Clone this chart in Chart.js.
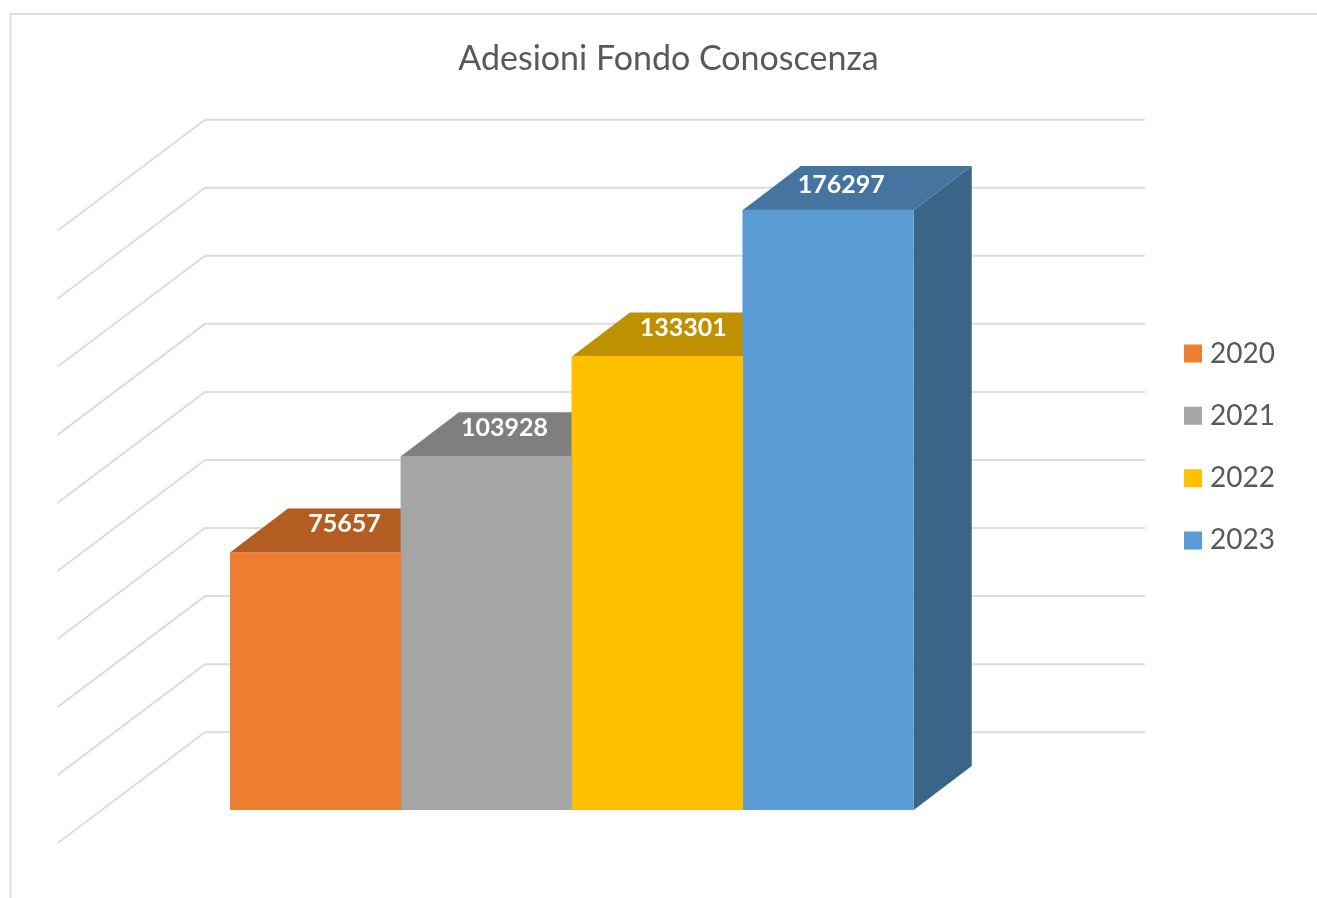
<!DOCTYPE html>
<html>
<head>
<meta charset="utf-8">
<title>Adesioni Fondo Conoscenza</title>
<script src="https://cdn.jsdelivr.net/npm/chart.js@4/dist/chart.umd.min.js"></script>
<style>
    html, body { margin: 0; padding: 0; background: #fff; overflow: hidden; }
    canvas { display: block; }
</style>
</head>
<body>
<canvas id="fondoChart" width="1317" height="898"></canvas>
<script>
var chartTitle = "Adesioni Fondo Conoscenza";
var categories = ["Adesioni"];
var years = ["2020", "2021", "2022", "2023"];
var adesioni = [75657, 103928, 133301, 176297];

var frontColors = ["#ED7D31", "#A5A5A5", "#FFC000", "#5B9BD5"];
var topColors = ["#B45D22", "#7F7F7F", "#BF9000", "#44749F"];
var sideColors = ["#8E4A1D", "#636363", "#997300", "#3A6488"];

// hand placed labels, offset from the front top edge of each bar
var labelOffsetX = [29, 18, 26, 13];
var labelOffsetY = [-29, -28, -28, -25];

// fake 3d: bar depth and how far the walls sit behind the bars
var DEPTH_X = 58;
var DEPTH_Y = 44;
var WALL_DROP = 77.8;
var WALL_LEFT = 205;
var WALL_RIGHT = 1145;
var FLOOR_X = 147.5;
var FLOOR_Y = 111;

function polygon(ctx, color, pts) {
    ctx.fillStyle = color;
    ctx.beginPath();
    ctx.moveTo(pts[0][0], pts[0][1]);
    for (var i = 1; i < pts.length; i++) {
        ctx.lineTo(pts[i][0], pts[i][1]);
    }
    ctx.closePath();
    ctx.fill();
}

var frame3d = {
    id: "frame3d",
    beforeDatasetsDraw: function (chart) {
        var ctx = chart.ctx;
        var y = chart.scales.y;

        ctx.save();

        // outer chart border, cut off by the screenshot
        ctx.strokeStyle = "#DEDEDE";
        ctx.lineWidth = 2;
        ctx.beginPath();
        ctx.moveTo(10.5, chart.height);
        ctx.lineTo(10.5, 14);
        ctx.lineTo(chart.width, 14);
        ctx.stroke();

        // walls
        ctx.strokeStyle = "#DCDCDC";
        y.ticks.forEach(function (tick) {
            var py = y.getPixelForValue(tick.value) - WALL_DROP;
            ctx.beginPath();
            ctx.moveTo(WALL_LEFT - FLOOR_X, py + FLOOR_Y);
            ctx.lineTo(WALL_LEFT, py);
            ctx.lineTo(WALL_RIGHT, py);
            ctx.stroke();
        });

        // top and side faces go under the front faces of the next bars
        chart.data.datasets.forEach(function (ds, i) {
            var bar = chart.getDatasetMeta(i).data[0];
            var left = bar.x - bar.width / 2;
            var right = bar.x + bar.width / 2;
            polygon(ctx, sideColors[i], [
                [right, bar.y],
                [right + DEPTH_X, bar.y - DEPTH_Y],
                [right + DEPTH_X, bar.base - DEPTH_Y],
                [right, bar.base]
            ]);
            polygon(ctx, topColors[i], [
                [left, bar.y],
                [left + DEPTH_X, bar.y - DEPTH_Y],
                [right + DEPTH_X, bar.y - DEPTH_Y],
                [right, bar.y]
            ]);
        });

        ctx.restore();
    },
    afterDatasetsDraw: function (chart) {
        var ctx = chart.ctx;
        ctx.save();
        ctx.fillStyle = "#FFFFFF";
        ctx.font = "700 25px Lato";
        ctx.textAlign = "center";
        ctx.textBaseline = "middle";
        chart.data.datasets.forEach(function (ds, i) {
            var bar = chart.getDatasetMeta(i).data[0];
            ctx.fillText(String(ds.data[0]), bar.x + labelOffsetX[i], bar.y + labelOffsetY[i]);
        });
        ctx.restore();
    }
};

var datasets = years.map(function (year, i) {
    return {
        label: year,
        data: [adesioni[i]],
        backgroundColor: frontColors[i],
        borderWidth: 0
    };
});

new Chart(document.getElementById("fondoChart"), {
    type: "bar",
    data: {
        labels: categories,
        datasets: datasets
    },
    plugins: [frame3d],
    options: {
        responsive: false,
        animation: false,
        barPercentage: 1,
        categoryPercentage: 1,
        layout: {
            padding: { top: 0, left: 52, right: 32, bottom: 4 }
        },
        plugins: {
            tooltip: { enabled: false },
            title: {
                display: true,
                text: chartTitle,
                color: "#595959",
                font: { family: "Lato", size: 34, weight: "400", lineHeight: 1.2 },
                padding: { top: 38.6, bottom: 118.1 }
            },
            legend: {
                position: "right",
                labels: {
                    color: "#595959",
                    font: { family: "Lato", size: 28 },
                    usePointStyle: true,
                    pointStyle: "rect",
                    boxWidth: 6,
                    boxHeight: 18,
                    padding: 34.3
                }
            }
        },
        scales: {
            x: {
                ticks: { display: false },
                grid: { display: false },
                border: { display: false },
                afterFit: function (scale) { scale.height = 84; }
            },
            y: {
                min: 0,
                max: 180000,
                ticks: { display: false, stepSize: 20000 },
                grid: { display: false },
                border: { display: false },
                afterFit: function (scale) { scale.width = 178; }
            },
            // empty axis, only keeps the bars clear of the legend
            gap: {
                position: "right",
                ticks: { display: false },
                grid: { display: false },
                border: { display: false },
                afterFit: function (scale) { scale.width = 242; }
            }
        }
    }
});
</script>
</body>
</html>
